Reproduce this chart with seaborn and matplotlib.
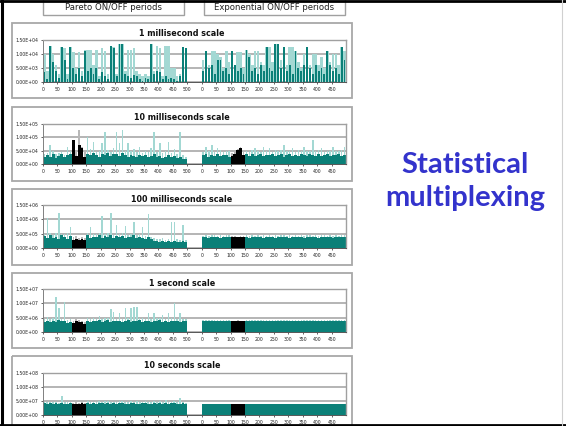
import numpy as np
import pandas as pd
import matplotlib
matplotlib.use("Agg")
import matplotlib.pyplot as plt
import seaborn as sns
from matplotlib.patches import Rectangle
from matplotlib.lines import Line2D

W, H = 566, 426

# ---------------- data (values in units of row_unit, 10-unit bins) ----------------
row_titles = ["1 millisecond scale", "10 milliseconds scale", "100 milliseconds scale",
              "1 second scale", "10 seconds scale"]
row_units = [1e3, 1e4, 1e5, 1e6, 1e7]
y_ticks = [0, 5, 10, 15]
x_tick_pos = [0, 50, 100, 150, 200, 250, 300, 350, 400, 450, 500,
              550, 600, 650, 700, 750, 800, 850, 900, 950, 1000]
x_tick_labels = ["0", "50", "100", "150", "200", "250", "300", "350", "400", "450", "500",
                 "0", "50", "100", "150", "200", "250", "300", "350", "400", "450"]
black_bins = [10, 11, 12, 13, 14]

ms1_pareto_light = [10.0, 4.0, 13.0, 10.0, 6.0, 3.0, 12.4, 12.0, 3.0, 12.4, 10.6, 5.0, 10.6, 4.0, 11.5,
                    11.5, 11.5, 6.0, 11.5, 2.0, 12.0, 11.0, 3.0, 13.0, 12.5, 3.0, 13.4, 13.4, 4.0, 11.5,
                    11.5, 12.0, 4.0, 3.0, 2.0, 3.0, 2.0, 13.6, 4.0, 13.0, 12.0, 2.0, 13.0, 13.0, 5.0,
                    5.0, 2.0, 3.0, 12.4, 12.0]
ms1_pareto_dark = [3.4, 1.0, 13.0, 7.0, 4.0, 1.5, 12.4, 8.0, 1.0, 12.4, 5.0, 3.0, 5.0, 2.0, 11.0,
                   4.0, 5.0, 3.0, 5.0, 1.0, 3.4, 2.0, 1.0, 13.0, 12.0, 2.0, 13.4, 13.4, 3.0, 2.0,
                   1.5, 2.5, 2.0, 1.0, 0.5, 1.5, 1.0, 13.6, 3.0, 4.0, 3.5, 1.0, 2.0, 1.0, 1.5,
                   1.0, 0.5, 2.0, 12.4, 12.0]
ms1_exp_light = [8, 11, 6, 11, 11, 10, 9, 5, 11, 7, 11, 6, 10.6, 10.6, 5, 11.4, 10, 6, 11, 11,
                 7, 6, 12.4, 12.4, 7, 13.4, 13.4, 8, 12.4, 6, 12.4, 12.4, 11, 7, 5, 10, 12.4, 6, 10, 10,
                 6, 9, 5, 11, 7, 10, 10, 6, 12.4, 11]
ms1_exp_dark = [4, 11, 5, 6, 3, 8, 8, 4, 5, 3, 11, 6, 4, 5, 3, 11.4, 9, 4, 5, 3,
                6, 4, 12.4, 5, 4, 13.4, 13.4, 5, 12.4, 4, 6, 3, 11, 5, 4, 6, 12.4, 5, 3, 6,
                4, 5, 3, 11, 6, 4, 5, 3, 12.4, 8]

ms10_pareto_light = [3.8, 4.2, 7.2, 4.7, 3.6, 4.0, 4.5, 3.5, 6.5, 4.8, 9.0, 5.0, 12.7, 6.5, 4.5,
                     10.2, 5.5, 8.4, 4.6, 5.0, 8.0, 12.1, 5.2, 4.4, 6.0, 12.1, 7.8, 12.7, 5.0, 7.8,
                     4.8, 5.5, 4.6, 6.5, 4.2, 5.0, 4.4, 6.0, 12.1, 4.6, 7.8, 4.2, 5.0, 8.4, 4.0,
                     5.5, 3.8, 12.1, 3.2, 2.8]
ms10_pareto_dark = [2.5, 3.5, 2.8, 3.8, 2.2, 3.0, 3.8, 2.5, 3.2, 3.6, 9.0, 3.0, 7.0, 6.0, 2.8,
                    3.8, 3.2, 4.2, 3.5, 2.8, 3.9, 3.4, 4.0, 2.9, 3.6, 3.8, 3.1, 4.0, 3.3, 2.7,
                    3.5, 3.0, 2.6, 3.4, 2.9, 3.2, 2.5, 3.0, 3.6, 2.7, 3.1, 2.4, 2.8, 3.3, 2.5,
                    2.9, 2.2, 2.6, 2.0, 1.8]
ms10_exp_light = [4.5, 6.5, 4.8, 7.2, 4.6, 5.9, 5.3, 4.4, 5.0, 4.7, 4.0, 4.6, 5.8, 6.5, 4.4,
                  5.0, 4.6, 5.2, 5.9, 4.8, 4.5, 6.5, 4.9, 5.9, 4.6, 5.1, 4.7, 5.4, 7.2, 4.8,
                  5.0, 5.9, 4.6, 5.2, 4.9, 6.5, 4.7, 5.0, 9.0, 4.8, 5.2, 5.9, 4.6, 5.0, 4.8,
                  6.5, 4.9, 4.7, 5.3, 6.5]
ms10_exp_dark = [3.2, 3.6, 2.8, 3.4, 3.0, 3.8, 2.9, 3.3, 3.5, 2.7, 3.0, 3.8, 5.2, 6.0, 3.5,
                 3.6, 3.1, 3.9, 3.0, 3.4, 3.7, 2.9, 3.5, 3.2, 3.8, 3.0, 3.4, 3.6, 2.8, 3.3,
                 3.9, 3.1, 3.5, 3.0, 3.7, 3.2, 2.9, 3.6, 3.4, 3.0, 3.8, 3.1, 3.3, 3.6, 2.9,
                 3.5, 3.2, 3.7, 3.0, 3.4]

ms100_pareto_light = [5.0, 10.4, 5.2, 4.6, 5.4, 12.1, 5.0, 4.8, 5.3, 7.2, 3.8, 4.2, 3.6, 4.0, 3.4,
                      5.2, 7.2, 4.8, 5.0, 5.4, 11.0, 4.9, 5.3, 12.1, 4.6, 8.1, 4.8, 5.2, 7.5, 4.7,
                      5.0, 9.2, 4.5, 4.8, 7.2, 4.2, 11.9, 4.0, 3.6, 3.2, 3.0, 3.4, 2.8, 3.0, 9.2,
                      9.2, 3.0, 2.8, 8.1, 2.9]
ms100_pareto_dark = [4.2, 3.6, 4.5, 3.4, 4.0, 3.2, 4.4, 3.8, 3.0, 4.2, 2.9, 3.1, 2.8, 3.0, 2.7,
                     4.4, 3.6, 4.0, 3.8, 4.5, 3.5, 4.2, 3.9, 4.6, 3.4, 4.1, 3.7, 4.3, 3.6, 4.0,
                     3.8, 4.4, 3.5, 3.9, 3.6, 3.2, 3.8, 3.0, 2.6, 2.4, 2.2, 2.5, 2.0, 2.3, 2.1,
                     2.4, 2.2, 2.0, 2.3, 2.1]
ms100_exp_light = [4.3, 4.5, 4.2, 4.6, 4.4, 4.3, 4.5, 4.2, 4.4, 4.6, 4.1, 4.2, 4.0, 4.1, 4.2,
                   4.5, 4.3, 4.4, 4.2, 4.6, 4.3, 4.5, 4.2, 4.4, 4.3, 4.7, 4.2, 4.4, 4.5, 4.3,
                   4.6, 4.2, 4.4, 4.3, 4.5, 4.2, 4.6, 4.4, 4.3, 4.5, 4.2, 4.4, 4.6, 4.3, 4.5,
                   4.2, 4.4, 4.3, 4.6, 4.4]
ms100_exp_dark = [3.7, 3.8, 3.6, 3.7, 3.8, 3.7, 3.6, 3.8, 3.7, 3.7, 3.8, 3.7, 3.8, 3.7, 3.8,
                  3.7, 3.6, 3.8, 3.7, 3.7, 3.8, 3.6, 3.7, 3.8, 3.7, 3.6, 3.7, 3.8, 3.7, 3.7,
                  3.6, 3.8, 3.7, 3.7, 3.8, 3.6, 3.7, 3.7, 3.8, 3.7, 3.6, 3.7, 3.8, 3.7, 3.7,
                  3.6, 3.8, 3.7, 3.7, 3.8]

s1_pareto_light = [4.6, 5.3, 4.4, 4.8, 12.3, 8.3, 4.5, 10.3, 4.2, 4.7, 3.8, 4.4, 4.2, 4.0, 3.4,
                   4.8, 4.5, 4.9, 4.6, 5.6, 4.4, 4.8, 5.0, 7.9, 7.1, 4.6, 6.5, 4.7, 8.3, 4.9,
                   8.3, 8.8, 8.6, 4.8, 5.0, 4.6, 6.7, 4.5, 6.5, 4.8, 5.0, 5.9, 4.6, 6.5, 4.8,
                   10.0, 4.7, 6.5, 4.6, 4.5]
s1_pareto_dark = [3.6, 4.0, 3.4, 3.8, 3.5, 4.2, 3.7, 3.9, 3.3, 3.6, 3.2, 3.8, 3.6, 3.4, 2.8,
                  3.9, 3.5, 4.0, 3.7, 4.1, 3.6, 3.8, 4.2, 3.5, 3.9, 3.7, 4.0, 3.6, 3.8, 4.1,
                  3.5, 3.9, 3.7, 4.2, 3.6, 3.8, 4.0, 3.5, 3.9, 3.7, 4.1, 3.6, 3.8, 3.5, 4.0,
                  3.7, 3.9, 3.6, 3.8, 3.7]
s1_exp_light = [4.2, 4.3, 4.1, 4.2, 4.3, 4.2, 4.1, 4.3, 4.2, 4.2, 4.0, 4.0, 4.1, 4.0, 4.0,
                4.2, 4.3, 4.1, 4.2, 4.3, 4.2, 4.1, 4.2, 4.3, 4.2, 4.1, 4.3, 4.2, 4.2, 4.1,
                4.3, 4.2, 4.1, 4.2, 4.3, 4.2, 4.2, 4.1, 4.3, 4.2, 4.2, 4.1, 4.3, 4.2, 4.1,
                4.2, 4.3, 4.2, 4.1, 4.2]
s1_exp_dark = [3.9, 4.0, 3.9, 3.9, 4.0, 3.9, 3.9, 4.0, 3.9, 3.9, 3.9, 3.9, 3.9, 3.9, 3.9,
               3.9, 4.0, 3.9, 3.9, 4.0, 3.9, 3.9, 3.9, 4.0, 3.9, 3.9, 4.0, 3.9, 3.9, 3.9,
               4.0, 3.9, 3.9, 3.9, 4.0, 3.9, 3.9, 3.9, 4.0, 3.9, 3.9, 3.9, 4.0, 3.9, 3.9,
               3.9, 4.0, 3.9, 3.9, 3.9]

s10_pareto_light = [4.6, 4.5, 4.8, 4.5, 4.7, 4.4, 6.9, 4.6, 4.5, 4.8, 4.3, 4.5, 4.4, 4.6, 4.3,
                    4.9, 4.6, 4.8, 4.5, 5.0, 4.7, 4.9, 5.1, 4.6, 4.8, 4.7, 5.0, 4.9, 4.6, 4.8,
                    5.0, 4.7, 4.9, 4.6, 4.8, 5.0, 4.7, 4.5, 4.9, 4.8, 5.1, 4.6, 5.5, 4.8, 4.7,
                    4.9, 4.6, 5.9, 4.7, 4.4]
s10_pareto_dark = [4.2, 4.0, 4.3, 4.1, 4.2, 3.9, 4.3, 4.1, 4.0, 4.2, 3.8, 4.1, 4.0, 4.2, 3.9,
                   4.3, 4.1, 4.2, 4.0, 4.3, 4.2, 4.1, 4.3, 4.0, 4.2, 4.1, 4.3, 4.2, 4.0, 4.1,
                   4.3, 4.2, 4.1, 4.0, 4.2, 4.3, 4.1, 4.0, 4.2, 4.1, 4.3, 4.0, 4.2, 4.1, 4.3,
                   4.2, 4.0, 4.1, 4.2, 4.0]
s10_exp_light = [4.0] * 50
s10_exp_dark = [3.9] * 50

rows = [
    (ms1_pareto_light, ms1_pareto_dark, ms1_exp_light, ms1_exp_dark, False),
    (ms10_pareto_light, ms10_pareto_dark, ms10_exp_light, ms10_exp_dark, True),
    (ms100_pareto_light, ms100_pareto_dark, ms100_exp_light, ms100_exp_dark, True),
    (s1_pareto_light, s1_pareto_dark, s1_exp_light, s1_exp_dark, True),
    (s10_pareto_light, s10_pareto_dark, s10_exp_light, s10_exp_dark, True),
]

# ---------------- layout (pixels) ----------------
plot_y = [(40, 82), (124, 164), (205, 248), (289, 332), (373, 415)]
title_y = [33, 117, 200, 284, 366]
box_y = [(23, 98), (107, 181), (189, 265), (273, 348), (356, 432)]
PX0, PX1 = 43, 346
light_w = [0.9, 0.5, 0.5, 0.5, 0.6]
dark_w = [0.65, 1.0, 1.0, 1.0, 1.0]

LIGHT = "#a3d8d3"
DARK = "#0b8078"
GRAY = "#b8b8b8"
BLACK = "#000000"

plt.rcParams["font.family"] = ["DejaVu Sans"]
fig = plt.figure(figsize=(W / 100, H / 100), dpi=100)
fig.patch.set_facecolor("white")


def frac(x0, y0, x1, y1):
    return [x0 / W, 1 - y1 / H, (x1 - x0) / W, (y1 - y0) / H]


# background / decoration axis in pixel coords
bg = fig.add_axes([0, 0, 1, 1], zorder=0)
bg.set_xlim(0, W)
bg.set_ylim(H, 0)
bg.axis("off")
for (y0, y1) in box_y:
    bg.add_patch(Rectangle((12, y0), 340, y1 - y0, fill=False, ec="#a8a8a8", lw=1.3))
for (x0, x1, txt) in [(43, 184, "Pareto ON/OFF periods"), (204, 345, "Exponential ON/OFF periods")]:
    bg.add_patch(Rectangle((x0, -3), x1 - x0, 18, fill=False, ec="#a0a0a0", lw=1.0))
    bg.text((x0 + x1) / 2, 7.5, txt, ha="center", va="center", fontsize=6.1, color="#222222")
bg.add_line(Line2D([1.5, 1.5], [0, H], color="black", lw=2.2))
bg.add_line(Line2D([0, W], [1.2, 1.2], color="black", lw=2.0))
bg.add_line(Line2D([0, W], [424.5, 424.5], color="black", lw=2.0))
bg.add_line(Line2D([562, 562], [0, H], color="#d0d0d0", lw=0.8))
for ty, t in zip(title_y, row_titles):
    bg.text(182, ty, t, ha="center", va="center", fontsize=5.8, fontweight="bold", color="#111111")
bg.text(465, 165, "Statistical", ha="center", va="center", fontsize=21, fontweight="bold",
        color="#3333cc", family="Lato")
bg.text(465, 198, "multiplexing", ha="center", va="center", fontsize=21, fontweight="bold",
        color="#3333cc", family="Lato")

pos_p = 5 + 10 * np.arange(50)
pos_e = 555 + 10 * np.arange(50)

for r, (pl, pd_, el, ed, has_black) in enumerate(rows):
    unit = row_units[r]
    y0, y1 = plot_y[r]
    ax = fig.add_axes(frac(PX0, y0, PX1, y1), zorder=2)
    ax.set_facecolor("white")
    df = pd.DataFrame({
        "pos": np.concatenate([pos_p, pos_e]),
        "light": np.array(pl + el, dtype=float) * unit,
        "dark": np.array(pd_ + ed, dtype=float) * unit,
    })
    idx = np.concatenate([np.arange(50), np.arange(50)])
    df["black"] = np.isin(idx, black_bins) & has_black
    normal = df[~df["black"]]
    blk = df[df["black"]]
    kw = dict(native_scale=True, saturation=1, errorbar=None, linewidth=0, ax=ax)
    sns.barplot(data=normal, x="pos", y="light", color=LIGHT, width=light_w[r], **kw)
    if len(blk):
        sns.barplot(data=blk, x="pos", y="light", color=GRAY, width=light_w[r], **kw)
    sns.barplot(data=normal, x="pos", y="dark", color=DARK, width=dark_w[r], **kw)
    if len(blk):
        sns.barplot(data=blk, x="pos", y="dark", color=BLACK, width=dark_w[r], **kw)
    ax.set_xlim(0, 1050)
    ax.set_ylim(0, 15 * unit)
    ax.set_xlabel("")
    ax.set_ylabel("")
    yt = [v * unit for v in y_ticks]
    ax.set_yticks(yt)
    ax.set_yticklabels(["%.2E" % v for v in yt])
    ax.set_xticks(x_tick_pos)
    ax.set_xticklabels(x_tick_labels)
    ax.tick_params(axis="both", labelsize=3.3, length=1.5, width=0.5, pad=2, colors="#222222")
    ax.grid(axis="y", color="#a0a0a0", lw=1.1)
    ax.set_axisbelow(True)
    for s in ["top", "right"]:
        ax.spines[s].set_color("#a0a0a0")
        ax.spines[s].set_linewidth(1.0)
    ax.spines["left"].set_color("#808080")
    ax.spines["left"].set_linewidth(0.7)
    ax.spines["bottom"].set_color("#555555")
    ax.spines["bottom"].set_linewidth(0.7)

fig.savefig("out.png", dpi=100, facecolor="white")
